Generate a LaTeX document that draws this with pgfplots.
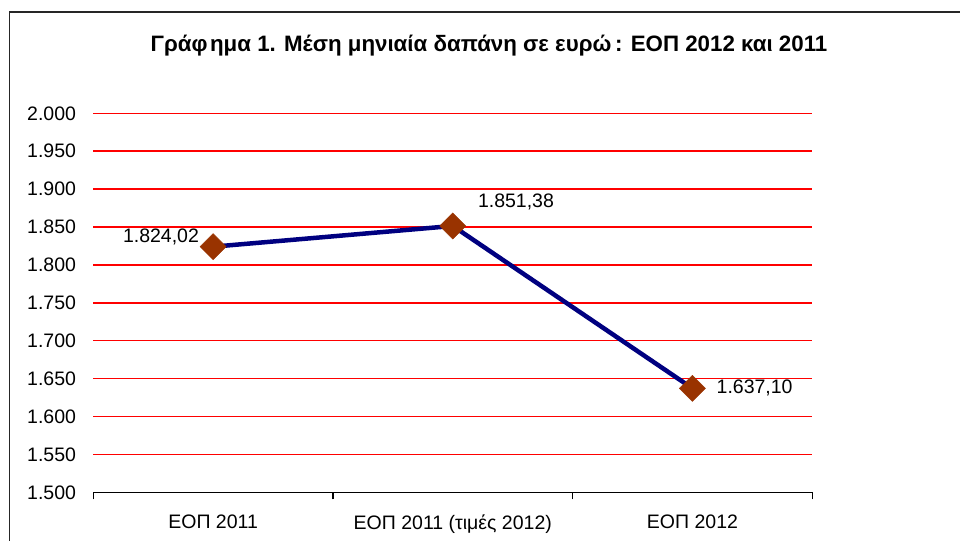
\documentclass[border=0pt]{standalone}
\usepackage{pgfplots}
\pgfplotsset{compat=1.18}
\usepackage{fontspec}
\setmainfont{Liberation Sans}
\definecolor{navyline}{RGB}{0,0,128}
\definecolor{brownmark}{RGB}{153,51,0}
\definecolor{gridred}{RGB}{255,0,0}
\newcommand\f{\fontsize{19.5bp}{23bp}\selectfont}
\newcommand\ft{\fontsize{22.3bp}{26bp}\selectfont}
\begin{document}
\begin{tikzpicture}
\useasboundingbox (0,0) rectangle (960bp,541bp);
\fill[white] (0,0) rectangle (960bp,541bp);
\draw[line width=1.5bp, black!85] (9.5bp,0) -- (9.5bp,529bp) -- (960bp,529bp);
\node[font=\ft\bfseries, anchor=base] at (489bp,489.5bp) {Γράφ\hspace{2.5bp}ημα 1. Μέση μηνιαία δαπάνη σε ευρώ\,: ΕΟΠ 2012 και 2011};
\begin{axis}[
  at={(93.3bp,48.7bp)}, anchor=south west,
  scale only axis, width=719bp, height=379bp,
  xmin=-0.5, xmax=2.5, ymin=1500, ymax=2000,
  axis x line=bottom, axis y line=left,
  x axis line style={-, black, line width=1.2bp},
  y axis line style={draw=none},
  xtick={0,1,2},
  xticklabels={ΕΟΠ 2011, ΕΟΠ 2011 (τιμές 2012), ΕΟΠ 2012},
  minor xtick={-0.5,0.5,1.5,2.5},
  major x tick style={draw=none},
  minor x tick style={black, line width=1.2bp},
  xtick align=outside,
  minor tick length=7bp,
  ytick={1500,1550,...,2000},
  ytick style={draw=none},
  ymajorgrids,
  grid style={gridred, line width=1.5bp},
  scaled y ticks=false,
  /pgf/number format/.cd, use comma, 1000 sep={.}, assume math mode=true,
  /pgfplots/.cd,
  tick label style={font=\f, text=black},
  yticklabel style={inner sep=0pt, xshift=-15bp},
  xticklabel style={inner sep=0pt, yshift=-18bp},
  clip=false,
]
\addplot[navyline, line width=4.5bp, mark=square*, mark size=9.2bp,
  mark options={rotate=45, fill=brownmark, draw=brownmark, line width=0.5bp}]
  coordinates {(0,1824.02) (1,1851.38) (2,1637.10)};
\node[font=\f, anchor=east, inner sep=0pt] at ([xshift=-14bp,yshift=10bp]axis cs:0,1824.02) {1.824,02};
\node[font=\f, anchor=west, inner sep=0pt] at ([xshift=25bp,yshift=24bp]axis cs:1,1851.38) {1.851,38};
\node[font=\f, anchor=west, inner sep=0pt] at ([xshift=24bp,yshift=0bp]axis cs:2,1637.10) {1.637,10};
\end{axis}
\end{tikzpicture}
\end{document}
